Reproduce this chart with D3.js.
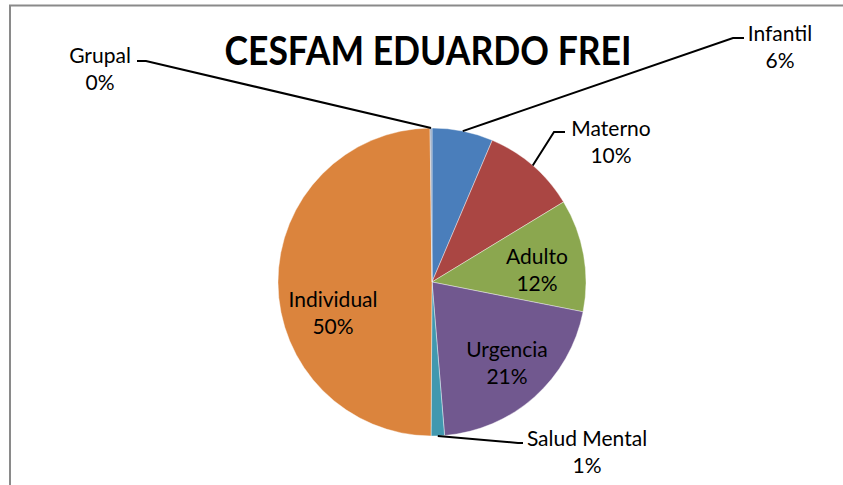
<!DOCTYPE html>
<html>
<head>
<meta charset="utf-8">
<script src="https://cdn.jsdelivr.net/npm/d3@7"></script>
<style>
  html, body { margin: 0; padding: 0; background: #fff; }
  svg { display: block; }
  text { font-family: Lato, "Open Sans", sans-serif; fill: #000; }
</style>
</head>
<body>
<svg id="chart" width="843" height="485"></svg>
<script>
// data (percent of total, clockwise from 12 o'clock)
const categories = ["Infantil", "Materno", "Adulto", "Urgencia", "Salud Mental", "Individual", "Grupal"];
const values = [6.4, 9.9, 11.8, 20.6, 1.4, 49.7, 0.2];
const colors = ["#4a7ebb", "#aa4643", "#8ba74f", "#71588f", "#4198af", "#db843d", "#8fa3c0"];
const title = "CESFAM EDUARDO FREI";

// where labels sit: inside slices or outside with a leader line
const insideLabels = { "Adulto": [537, 270], "Urgencia": [507, 363], "Individual": [333, 313] };
const outsideLabels = {
  "Infantil":     { text: [780, 47],  elbow: [733, 38],  end: [744, 38] },
  "Materno":      { text: [611, 142], elbow: [554, 132], end: [565, 132] },
  "Salud Mental": { text: [587, 452], elbow: [518, 443], end: [523, 443] },
  "Grupal":       { text: [100, 69],  elbow: [146, 61],  end: [137, 61] }
};

const svg = d3.select("#chart");
const cx = 432, cy = 282, radius = 154;
const lineH = 27;

// chart frame (only top and left edges show in the crop)
svg.append("rect")
  .attr("x", 10).attr("y", 5.5)
  .attr("width", 900).attr("height", 600)
  .attr("fill", "none")
  .attr("stroke", "#8a8a8a")
  .attr("stroke-width", 2);

svg.append("text")
  .attr("x", 428).attr("y", 65)
  .attr("text-anchor", "middle")
  .attr("font-size", 40)
  .attr("font-weight", "bold")
  .attr("textLength", 407)
  .attr("lengthAdjust", "spacingAndGlyphs")
  .text(title);

const pie = d3.pie().sort(null).value(d => d.value);
const data = pie(categories.map((c, i) => ({ name: c, value: values[i], color: colors[i] })));
const arc = d3.arc().innerRadius(0).outerRadius(radius);

const g = svg.append("g").attr("transform", `translate(${cx},${cy})`);

g.selectAll("path")
  .data(data)
  .enter()
  .append("path")
  .attr("d", arc)
  .attr("fill", d => d.data.color)
  .attr("stroke", "#fff")
  .attr("stroke-width", 0.4);

function pct(v) { return Math.round(v) + "%"; }

function twoLine(x, y, name, v) {
  const t = svg.append("text")
    .attr("text-anchor", "middle")
    .attr("font-size", 21);
  t.append("tspan").attr("x", x).attr("y", y - lineH / 2 + 7).text(name);
  t.append("tspan").attr("x", x).attr("y", y + lineH / 2 + 7).text(pct(v));
}

data.forEach(d => {
  const name = d.data.name;
  if (insideLabels[name]) {
    const [x, y] = insideLabels[name];
    twoLine(x, y, name, d.data.value);
  } else if (outsideLabels[name]) {
    const o = outsideLabels[name];
    const mid = (d.startAngle + d.endAngle) / 2;
    const sx = cx + radius * Math.sin(mid);
    const sy = cy - radius * Math.cos(mid);
    svg.append("polyline")
      .attr("points", [[sx, sy], o.elbow, o.end].map(p => p.join(",")).join(" "))
      .attr("fill", "none")
      .attr("stroke", "#000")
      .attr("stroke-width", 2);
    twoLine(o.text[0], o.text[1], name, d.data.value);
  }
});
</script>
</body>
</html>
